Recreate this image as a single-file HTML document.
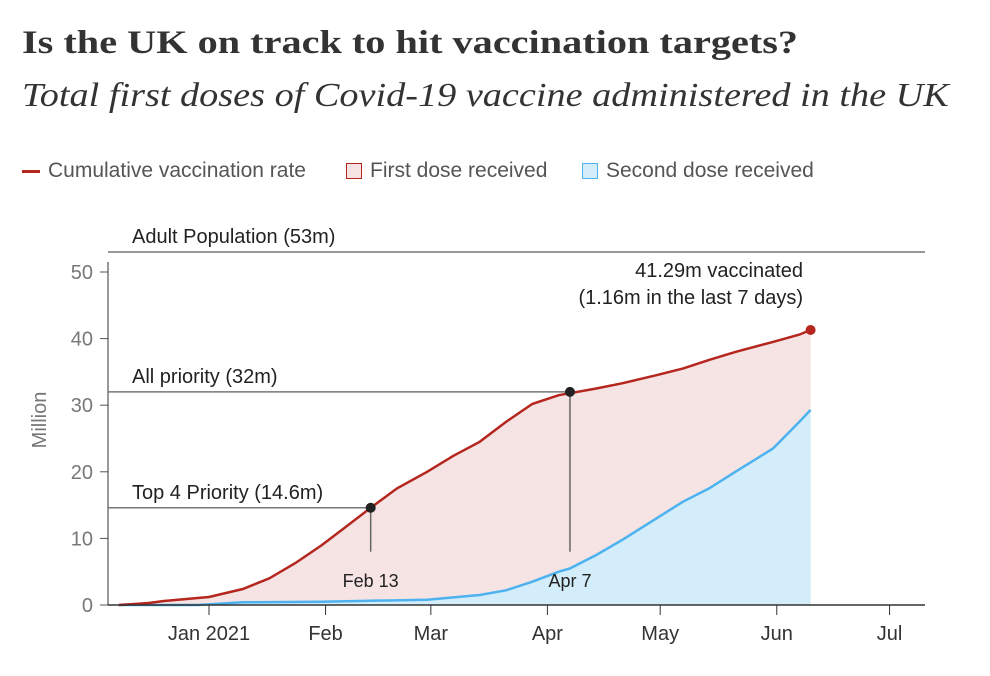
<!DOCTYPE html>
<html><head><meta charset="utf-8"><style>
body{margin:0;background:#fff;width:990px;height:676px;overflow:hidden;font-family:"Liberation Sans",sans-serif}
.t{position:absolute;left:22px;top:25px;font:bold 33px "Liberation Serif",serif;color:#333;transform-origin:0 0;transform:scaleX(1.22);white-space:nowrap}
.s{position:absolute;left:22px;top:77px;font:italic 34px "Liberation Serif",serif;color:#333;transform-origin:0 0;transform:scaleX(1.125);white-space:nowrap}
.lg{position:absolute;top:159px;font-size:21px;color:#555}
</style></head><body>
<div class="t">Is the UK on track to hit vaccination targets?</div>
<div class="s">Total first doses of Covid-19 vaccine administered in the UK</div>
<div class="lg" style="left:22px"><span style="display:inline-block;width:18px;height:3px;background:#b5261e;vertical-align:middle;margin-right:8px"></span>Cumulative vaccination rate</div>
<div class="lg" style="left:346px"><span style="display:inline-block;width:16px;height:16px;background:#f5e4e3;border:1.5px solid #b5261e;vertical-align:-2px;margin-right:8px;box-sizing:border-box"></span>First dose received</div>
<div class="lg" style="left:582px"><span style="display:inline-block;width:16px;height:16px;background:#d3eefa;border:1.5px solid #4db2ef;vertical-align:-2px;margin-right:8px;box-sizing:border-box"></span>Second dose received</div>
<svg id="c" width="990" height="676" style="position:absolute;left:0;top:0"></svg>
<script>
const firstDates=["2020-12-08","2020-12-16","2020-12-20","2021-01-01","2021-01-10","2021-01-17","2021-01-24","2021-01-31","2021-02-07","2021-02-13","2021-02-20","2021-02-28","2021-03-07","2021-03-14","2021-03-21","2021-03-28","2021-04-04","2021-04-07","2021-04-14","2021-04-21","2021-04-30","2021-05-07","2021-05-14","2021-05-21","2021-05-31","2021-06-07","2021-06-10"];
const firstVals=[0,0.3,0.6,1.2,2.4,4.0,6.3,9.0,12.0,14.6,17.5,20.0,22.4,24.5,27.5,30.2,31.5,31.8,32.5,33.3,34.5,35.5,36.8,38.0,39.5,40.6,41.29];
const secondDates=["2020-12-08","2020-12-29","2021-01-10","2021-01-31","2021-02-28","2021-03-14","2021-03-21","2021-03-28","2021-04-04","2021-04-07","2021-04-14","2021-04-21","2021-04-30","2021-05-07","2021-05-14","2021-05-21","2021-05-31","2021-06-07","2021-06-10"];
const secondVals=[0,0,0.4,0.5,0.8,1.5,2.2,3.5,5.0,5.5,7.5,9.8,13.0,15.5,17.5,20.0,23.5,27.5,29.3];
const yTicks=[0,10,20,30,40,50];
const xTickDates=["2021-01-01","2021-02-01","2021-03-01","2021-04-01","2021-05-01","2021-06-01","2021-07-01"];
const xTickLabels=["Jan 2021","Feb","Mar","Apr","May","Jun","Jul"];
const refVals=[53,32,14.6];
const refLabels=["Adult Population (53m)","All priority (32m)","Top 4 Priority (14.6m)"];
const refDates=[null,"2021-04-07","2021-02-13"];
const refDateLabels=[null,"Apr 7","Feb 13"];
const NS="http://www.w3.org/2000/svg",svg=document.getElementById('c');
const t0=Date.parse("2021-01-01");
const X=d=>209+(Date.parse(d)-t0)/864e5*3.76;
const Y=v=>605-v*6.66;
function el(tag,a,txt){const e=document.createElementNS(NS,tag);for(const k in a)e.setAttribute(k,a[k]);if(txt!=null)e.textContent=txt;svg.appendChild(e);return e;}
const F='font-family:"Liberation Sans",sans-serif;';
function pts(ds,vs){return ds.map((d,i)=>X(d).toFixed(1)+","+Y(vs[i]).toFixed(1)).join(" ");}
const fl=firstDates.length-1,sl=secondDates.length-1;
let a=el('polygon',{points:pts(firstDates,firstVals)+` ${X(firstDates[fl])},605 ${X(firstDates[0])},605`,fill:'#f5e4e3'});

a=el('polygon',{points:pts(secondDates,secondVals)+` ${X(secondDates[sl])},605 ${X(secondDates[0])},605`,fill:'#d3eefa'});

a=el('polyline',{points:pts(secondDates,secondVals),fill:'none',stroke:'#4db2ef','stroke-width':2.5});

a=el('polyline',{points:pts(firstDates,firstVals),fill:'none',stroke:'#b5261e','stroke-width':2.5});

yTicks.forEach(v=>{
 let l=el('line',{x1:100,x2:108,y1:Y(v),y2:Y(v),stroke:'#555'});
 
 let t=el('text',{x:93,y:Y(v)+7,'text-anchor':'end','font-size':20,fill:'#777',style:F},v);
 
});
xTickDates.forEach((d,i)=>{
 let l=el('line',{x1:X(d),x2:X(d),y1:605,y2:615,stroke:'#333'});
 
 let t=el('text',{x:X(d),y:640,'text-anchor':'middle','font-size':20,fill:'#333',style:F},xTickLabels[i]);
 
});
let ax=el('line',{x1:108,x2:108,y1:262,y2:605,stroke:'#333'});
ax=el('line',{x1:108,x2:925,y1:605,y2:605,stroke:'#333','stroke-width':1.5});
ax=el('text',{x:0,y:0,transform:'translate(46,420) rotate(-90)','text-anchor':'middle','font-size':20,fill:'#777',style:F},'Million');

refVals.forEach((v,i)=>{
 const x2=refDates[i]?X(refDates[i]):925;
 let l=el('line',{x1:108,x2:x2,y1:Y(v),y2:Y(v),stroke:'#777','stroke-width':1.5});
 
 let t=el('text',{x:132,y:Y(v)-9,'font-size':20,fill:'#222',style:F},refLabels[i]);
 
 if(refDates[i]){
  let vl=el('line',{x1:x2,x2:x2,y1:Y(v),y2:Y(8),stroke:'#666','stroke-width':1.5});
  
  let c=el('circle',{cx:x2,cy:Y(v),r:5,fill:'#222'});
  
  let dt=el('text',{x:x2,y:587,'text-anchor':'middle','font-size':18,fill:'#222',style:F},refDateLabels[i]);
  
 }
});
let ec=el('circle',{cx:X(firstDates[fl]),cy:Y(firstVals[fl]),r:5,fill:'#b5261e'});

let an=el('text',{x:803,y:277,'text-anchor':'end','font-size':20,fill:'#222',style:F},firstVals[fl]+'m vaccinated');

an=el('text',{x:803,y:304,'text-anchor':'end','font-size':20,fill:'#222',style:F},'(1.16m in the last 7 days)');

</script>
</body></html>
